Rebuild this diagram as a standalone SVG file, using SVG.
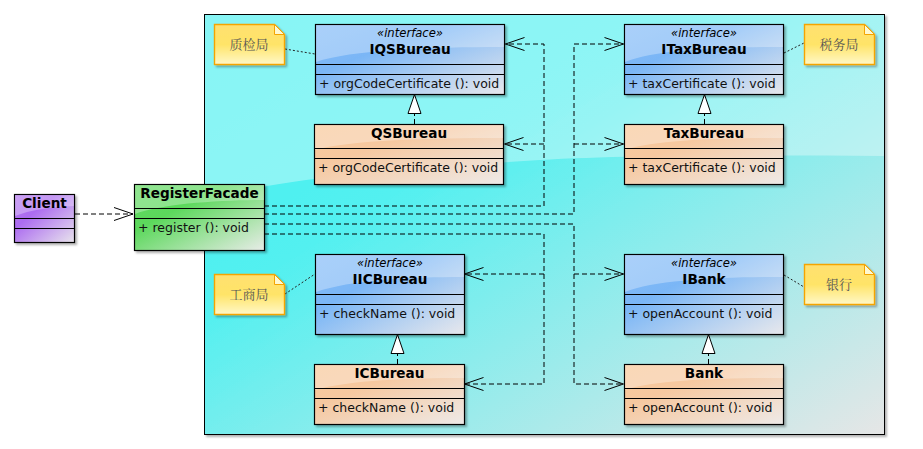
<svg xmlns="http://www.w3.org/2000/svg" width="923" height="449" viewBox="0 0 923 449">
<defs>
<linearGradient id="gBg" x1="0" y1="0" x2="1" y2="1">
<stop offset="0" stop-color="#48f0f0"/>
<stop offset="0.35" stop-color="#52f0f0"/>
<stop offset="1" stop-color="#e6e6e6"/>
</linearGradient>
<linearGradient id="gIf" x1="0" y1="0" x2="1" y2="1">
<stop offset="0" stop-color="#86bcf8"/>
<stop offset="0.35" stop-color="#7ab6f6"/>
<stop offset="1" stop-color="#e8e8ec"/>
</linearGradient>
<linearGradient id="gCl" x1="0" y1="0" x2="1" y2="1">
<stop offset="0" stop-color="#f8c898"/>
<stop offset="0.35" stop-color="#f6c8a0"/>
<stop offset="1" stop-color="#eeeae8"/>
</linearGradient>
<linearGradient id="gFa" x1="0" y1="0" x2="1" y2="1">
<stop offset="0" stop-color="#60da60"/>
<stop offset="0.35" stop-color="#5cd85c"/>
<stop offset="1" stop-color="#e8ece8"/>
</linearGradient>
<linearGradient id="gCt" x1="0" y1="0" x2="1" y2="1">
<stop offset="0" stop-color="#b478f0"/>
<stop offset="0.35" stop-color="#ac6cf0"/>
<stop offset="1" stop-color="#e8e4ec"/>
</linearGradient>
<linearGradient id="gNote" x1="0" y1="0" x2="0" y2="1">
<stop offset="0" stop-color="#ffe070"/>
<stop offset="0.5" stop-color="#ffe468"/>
<stop offset="1" stop-color="#fff8c8"/>
</linearGradient>
<filter id="sh" x="-10%" y="-10%" width="130%" height="130%">
<feDropShadow dx="2" dy="2" stdDeviation="1.2" flood-color="#000" flood-opacity="0.3"/>
</filter>
<marker id="open" markerUnits="userSpaceOnUse" markerWidth="22" markerHeight="14" refX="19" refY="6.5" orient="auto" overflow="visible">
<path d="M0,0 L19,6.5 L0,13" fill="none" stroke="#000" stroke-width="1"/>
</marker>
<marker id="tri" markerUnits="userSpaceOnUse" markerWidth="22" markerHeight="16" refX="19" refY="6.5" orient="auto" overflow="visible">
<path d="M0,0 L19,6.5 L0,13 Z" fill="#fff" stroke="#000" stroke-width="1"/>
</marker>
</defs>
<style>
.box{stroke:#000;stroke-width:1.2;filter:url(#sh)}
.if{fill:url(#gIf)}
.cl{fill:url(#gCl)}
.sep{stroke:#000;stroke-width:1.2}
.gloss{fill:#fff;opacity:0.3}
.title{font-family:"DejaVu Sans",Verdana,sans-serif;font-size:13.6px;font-weight:bold;text-anchor:middle;fill:#000}
.st{font-family:"DejaVu Sans",Verdana,sans-serif;font-size:11.6px;font-style:italic;text-anchor:middle;fill:#000}
.m{font-family:"DejaVu Sans",Verdana,sans-serif;font-size:12.5px;fill:#111}
.note{fill:url(#gNote);stroke:#f5a400;stroke-width:1.4;filter:url(#sh)}
.fold{fill:#fff8d0;stroke:#f5a400;stroke-width:1}
.nt{font-family:"Noto Serif CJK SC","Noto Sans CJK SC",serif;font-size:13px;fill:#555;text-anchor:middle}
.dep{fill:none;stroke:#000;stroke-width:1;stroke-dasharray:5 3}
.nl{fill:none;stroke:#222;stroke-width:1;stroke-dasharray:2 2}
</style>

<!-- container -->
<g id="container">
<rect x="204.5" y="14.5" width="680" height="420" fill="url(#gBg)" stroke="#000" stroke-width="1" filter="url(#sh)"/>
<path d="M205,15 H884 V156 C760,155 620,155 540,160 C380,170 270,180 205,200 Z" fill="#fff" opacity="0.35"/>
</g>

<!-- connectors -->
<g id="connectors">
<path class="dep" d="M75,214 H133" marker-end="url(#open)"/>
<path class="dep" d="M264,206 H544 V44 H505.5" marker-end="url(#open)"/>
<path class="dep" d="M544,144 H504.5" marker-end="url(#open)"/>
<path class="dep" d="M264,214 H574 V44 H623.5" marker-end="url(#open)"/>
<path class="dep" d="M574,144 H623.5" marker-end="url(#open)"/>
<path class="dep" d="M264,224 H574 V384 H623.5" marker-end="url(#open)"/>
<path class="dep" d="M574,274 H623.5" marker-end="url(#open)"/>
<path class="dep" d="M264,234 H544 V384 H464.5" marker-end="url(#open)"/>
<path class="dep" d="M544,274 H464.5" marker-end="url(#open)"/>
<path class="dep" d="M414.5,124 V94.5" marker-end="url(#tri)"/>
<path class="dep" d="M704.5,124 V94.5" marker-end="url(#tri)"/>
<path class="dep" d="M397.5,364 V334.5" marker-end="url(#tri)"/>
<path class="dep" d="M708.5,364 V334.5" marker-end="url(#tri)"/>
<path class="nl" d="M285,49 L315,54"/>
<path class="nl" d="M784,53 L804,43"/>
<path class="nl" d="M285,294 L315,274"/>
<path class="nl" d="M784,275 L804,287"/>
</g>

<!-- Client -->
<g id="Client">
<rect class="box" x="14.5" y="194.5" width="60" height="48" fill="url(#gCt)"/>
<path class="gloss" d="M15,195 H74 V206 C50,207 30,210 15,216 Z"/>
<line class="sep" x1="14.5" y1="218.5" x2="74.5" y2="218.5"/>
<line class="sep" x1="14.5" y1="228.5" x2="74.5" y2="228.5"/>
<text class="title" x="44.5" y="207.5">Client</text>
</g>

<!-- RegisterFacade -->
<g id="RegisterFacade">
<rect class="box" x="134.5" y="184.5" width="130" height="66" fill="url(#gFa)"/>
<path class="gloss" d="M135,185 H264 V200 C220,200 160,204 135,214 Z"/>
<line class="sep" x1="134.5" y1="208.5" x2="264.5" y2="208.5"/>
<line class="sep" x1="134.5" y1="218.5" x2="264.5" y2="218.5"/>
<text class="title" x="199.5" y="198">RegisterFacade</text>
<text class="m" x="138" y="232">+ register (): void</text>
</g>

<!-- IQSBureau -->
<g id="IQSBureau">
<rect class="box if" x="315.5" y="24.5" width="189" height="70"/>
<path class="gloss" d="M316,25 H504 V47 C430,47 350,50 316,62 Z"/>
<line class="sep" x1="315.5" y1="64.5" x2="504.5" y2="64.5"/>
<line class="sep" x1="315.5" y1="74.5" x2="504.5" y2="74.5"/>
<text class="st" x="410" y="37">«interface»</text>
<text class="title" x="410" y="53.5">IQSBureau</text>
<text class="m" x="319" y="88">+ orgCodeCertificate (): void</text>
</g>

<!-- QSBureau -->
<g id="QSBureau">
<rect class="box cl" x="314.5" y="124.5" width="189" height="60"/>
<path class="gloss" d="M315,125 H503 V138 C430,138 350,140 315,150 Z"/>
<line class="sep" x1="314.5" y1="148.5" x2="503.5" y2="148.5"/>
<line class="sep" x1="314.5" y1="158.5" x2="503.5" y2="158.5"/>
<text class="title" x="409" y="138">QSBureau</text>
<text class="m" x="318" y="172">+ orgCodeCertificate (): void</text>
</g>

<!-- ITaxBureau -->
<g id="ITaxBureau">
<rect class="box if" x="624.5" y="24.5" width="159" height="70"/>
<path class="gloss" d="M625,25 H783 V47 C720,47 655,50 625,62 Z"/>
<line class="sep" x1="624.5" y1="64.5" x2="783.5" y2="64.5"/>
<line class="sep" x1="624.5" y1="74.5" x2="783.5" y2="74.5"/>
<text class="st" x="704" y="37">«interface»</text>
<text class="title" x="704" y="53.5">ITaxBureau</text>
<text class="m" x="628" y="88">+ taxCertificate (): void</text>
</g>

<!-- TaxBureau -->
<g id="TaxBureau">
<rect class="box cl" x="624.5" y="124.5" width="159" height="60"/>
<path class="gloss" d="M625,125 H783 V138 C720,138 655,140 625,150 Z"/>
<line class="sep" x1="624.5" y1="148.5" x2="783.5" y2="148.5"/>
<line class="sep" x1="624.5" y1="158.5" x2="783.5" y2="158.5"/>
<text class="title" x="704" y="138">TaxBureau</text>
<text class="m" x="628" y="172">+ taxCertificate (): void</text>
</g>

<!-- IICBureau -->
<g id="IICBureau">
<rect class="box if" x="315.5" y="254.5" width="149" height="80"/>
<path class="gloss" d="M316,255 H464 V277 C410,277 350,280 316,292 Z"/>
<line class="sep" x1="315.5" y1="294.5" x2="464.5" y2="294.5"/>
<line class="sep" x1="315.5" y1="304.5" x2="464.5" y2="304.5"/>
<text class="st" x="390" y="267">«interface»</text>
<text class="title" x="390" y="283.5">IICBureau</text>
<text class="m" x="319" y="318">+ checkName (): void</text>
</g>

<!-- ICBureau -->
<g id="ICBureau">
<rect class="box cl" x="314.5" y="364.5" width="150" height="60"/>
<path class="gloss" d="M315,365 H464 V378 C410,378 350,380 315,390 Z"/>
<line class="sep" x1="314.5" y1="388.5" x2="464.5" y2="388.5"/>
<line class="sep" x1="314.5" y1="398.5" x2="464.5" y2="398.5"/>
<text class="title" x="389.5" y="378">ICBureau</text>
<text class="m" x="318" y="412">+ checkName (): void</text>
</g>

<!-- IBank -->
<g id="IBank">
<rect class="box if" x="624.5" y="254.5" width="159" height="80"/>
<path class="gloss" d="M625,255 H783 V277 C720,277 655,280 625,292 Z"/>
<line class="sep" x1="624.5" y1="294.5" x2="783.5" y2="294.5"/>
<line class="sep" x1="624.5" y1="304.5" x2="783.5" y2="304.5"/>
<text class="st" x="704" y="267">«interface»</text>
<text class="title" x="704" y="283.5">IBank</text>
<text class="m" x="628" y="318">+ openAccount (): void</text>
</g>

<!-- Bank -->
<g id="Bank">
<rect class="box cl" x="624.5" y="364.5" width="159" height="60"/>
<path class="gloss" d="M625,365 H783 V378 C720,378 655,380 625,390 Z"/>
<line class="sep" x1="624.5" y1="388.5" x2="783.5" y2="388.5"/>
<line class="sep" x1="624.5" y1="398.5" x2="783.5" y2="398.5"/>
<text class="title" x="704" y="378">Bank</text>
<text class="m" x="628" y="412">+ openAccount (): void</text>
</g>

<!-- Notes -->
<g id="note-qs">
<path class="note" d="M214.5,24.5 H274.5 L284.5,34.5 V64.5 H214.5 Z"/>
<path class="fold" d="M274.5,24.5 V34.5 H284.5 Z"/>
<text class="nt" x="249" y="48.5">质检局</text>
</g>
<g id="note-tax">
<path class="note" d="M804.5,24.5 H864.5 L874.5,34.5 V64.5 H804.5 Z"/>
<path class="fold" d="M864.5,24.5 V34.5 H874.5 Z"/>
<text class="nt" x="839" y="48.5">税务局</text>
</g>
<g id="note-ic">
<path class="note" d="M214.5,274.5 H274.5 L284.5,284.5 V314.5 H214.5 Z"/>
<path class="fold" d="M274.5,274.5 V284.5 H284.5 Z"/>
<text class="nt" x="249" y="298.5">工商局</text>
</g>
<g id="note-bank">
<path class="note" d="M804.5,264.5 H864.5 L874.5,274.5 V304.5 H804.5 Z"/>
<path class="fold" d="M864.5,264.5 V274.5 H874.5 Z"/>
<text class="nt" x="839" y="288.5">银行</text>
</g>
</svg>
